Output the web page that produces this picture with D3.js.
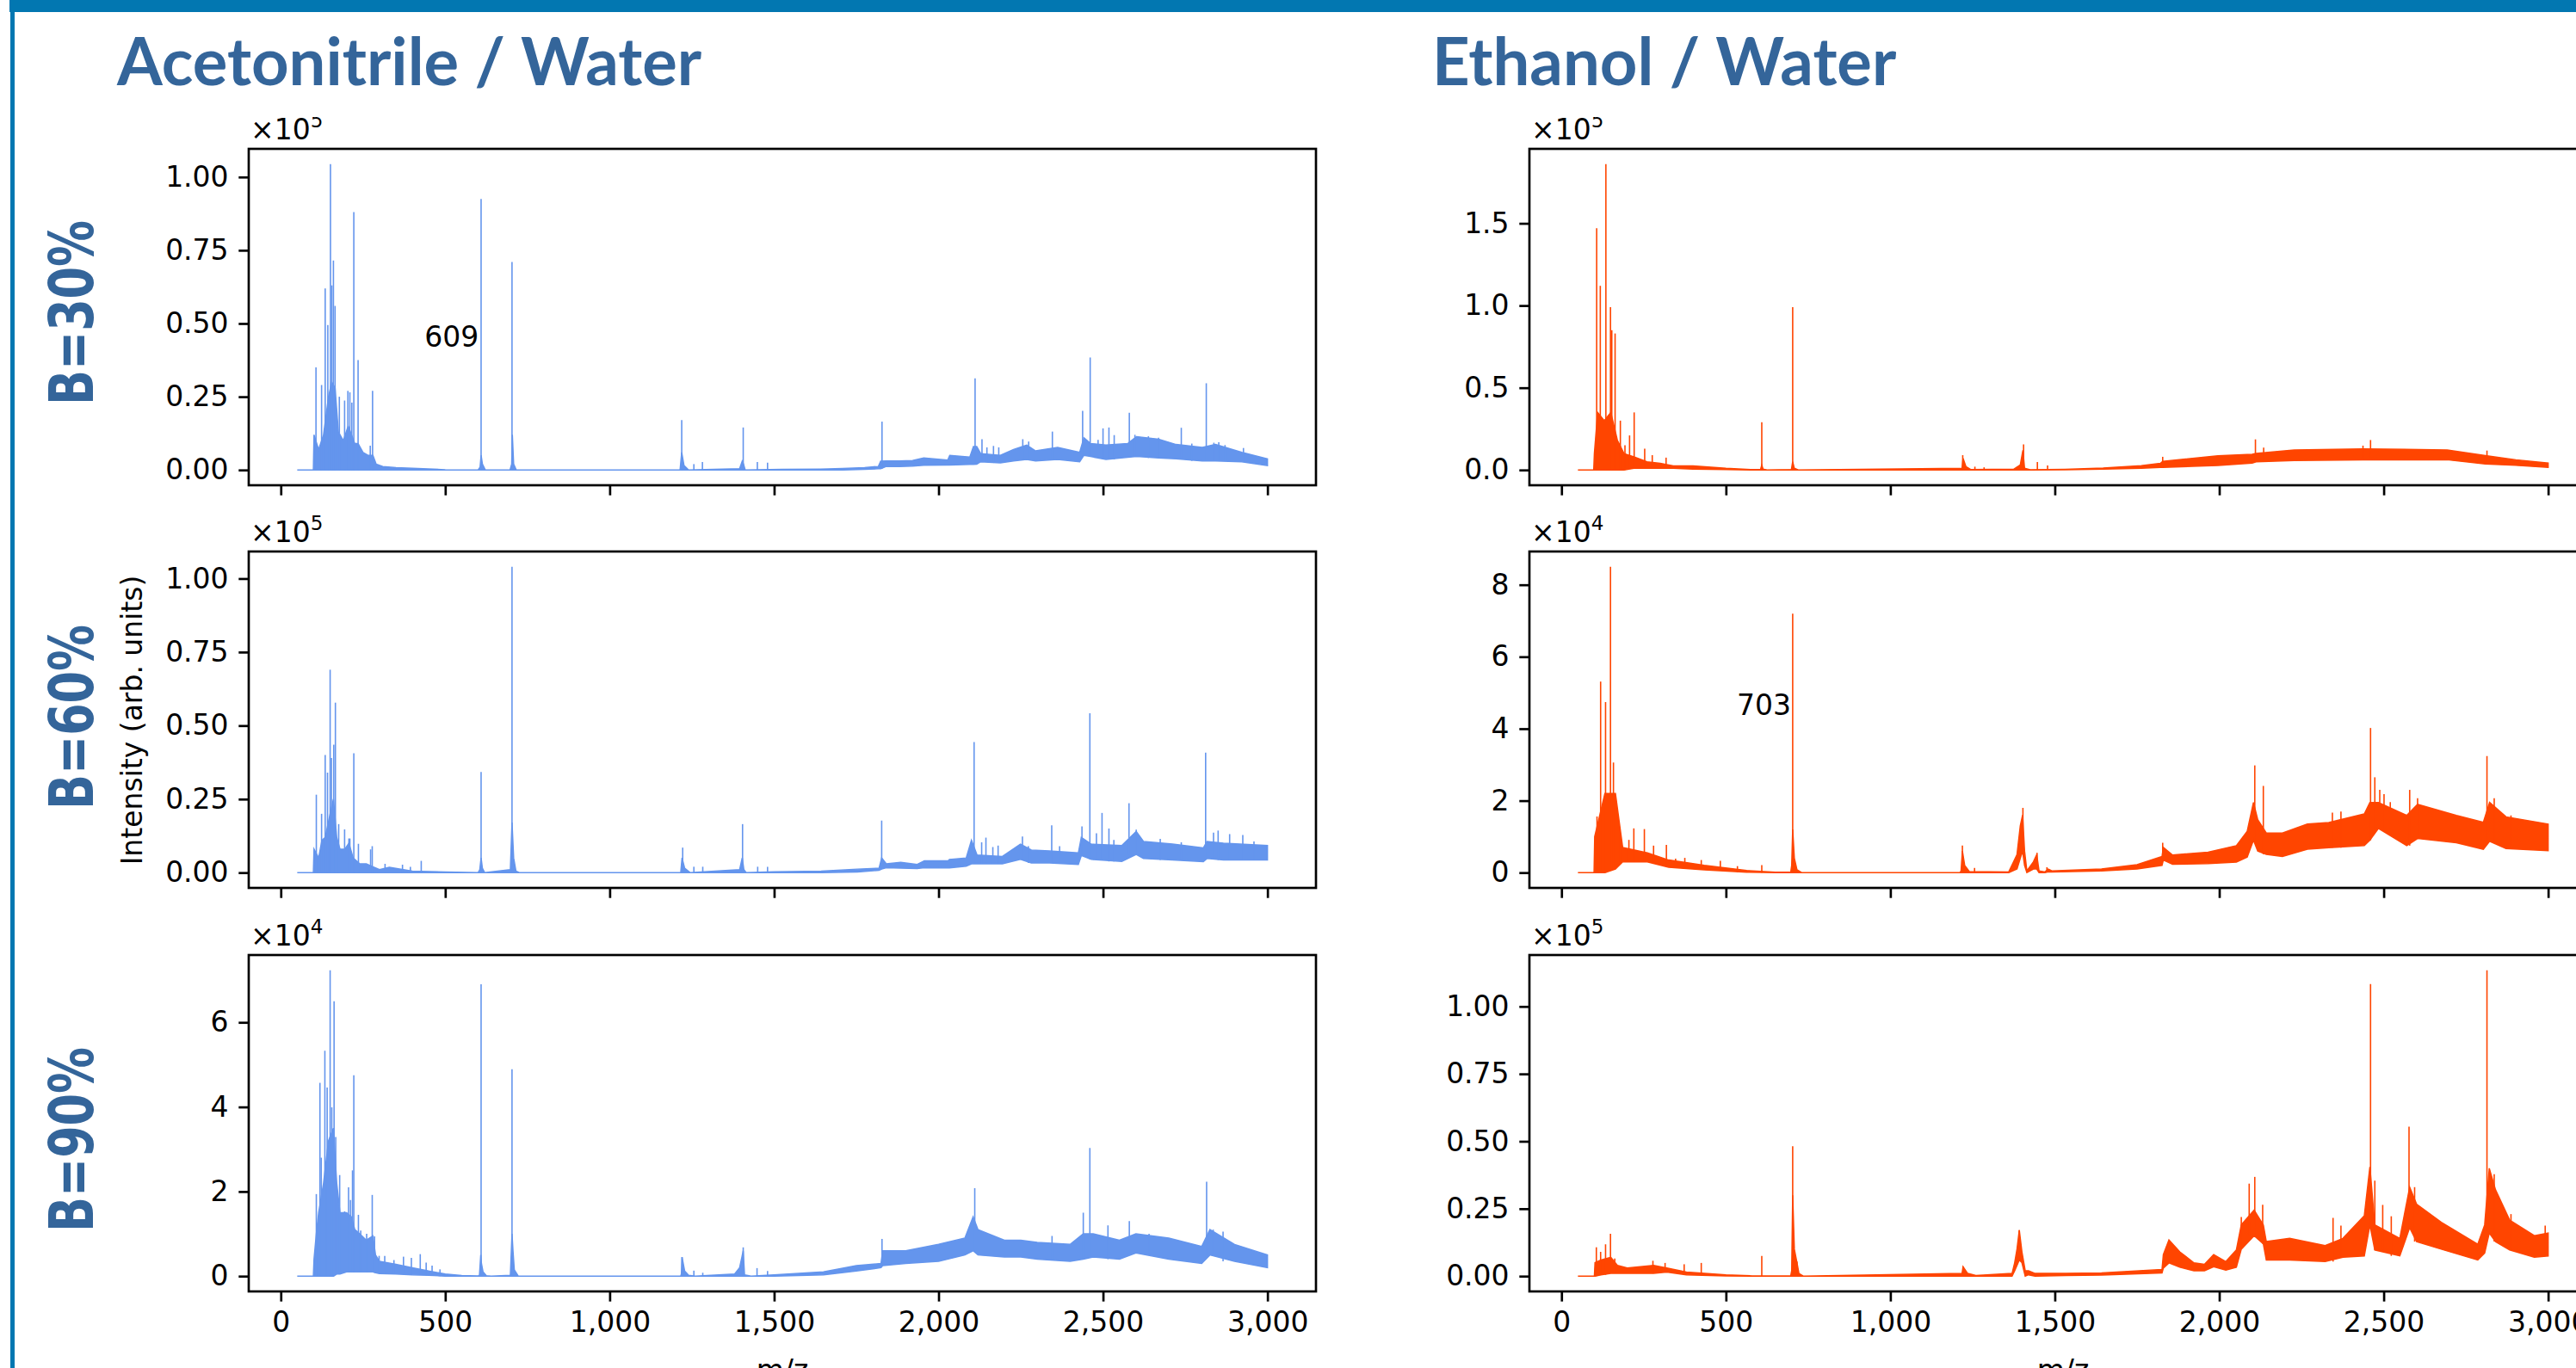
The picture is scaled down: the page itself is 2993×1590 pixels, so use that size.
<!DOCTYPE html>
<html>
<head>
<meta charset="utf-8">
<script src="https://cdn.jsdelivr.net/npm/d3@7"></script>
<style>
  html, body { margin: 0; padding: 0; background: #fff; overflow: hidden; }
  svg { display: block; }
  text { font-family: "DejaVu Sans", sans-serif; fill: #000; }
</style>
</head>
<body>
<div id="chart"></div>
<script>
var solvents = ["Acetonitrile / Water", "Ethanol / Water"];
var gradients = ["B=30%", "B=60%", "B=90%"];
var xTicks = [0, 500, 1000, 1500, 2000, 2500, 3000];

// every band row is [m/z, lower edge, upper edge], every peak row is [m/z, top]
// values are in the units shown on each y axis
var a30Band = [[50,0,0],[99,0,0],[101,0,.12],[115,0,.07],[130,0,.12],[145,0,.25],[155,0,.3],[165,0,.28],[175,0,.13],[190,0,.1],[205,0,.15],[215,0,.12],[225,0,.09],[235,0,.09],[250,0,.06],[265,0,.05],[280,0,.05],[290,0,.02],[310,0,.012],[350,0,.008],[400,0,.006],[500,0,.001],[600,0,0],[606,0,.01],[609,0,.05],[613,0,.02],[622,0,0],[697,0,0],[702,0,.02],[704,0,.12],[708,0,.02],[716,0,0],[1214,0,0],[1219,0,.06],[1226,0,.015],[1240,0,0],[1395,0,.004],[1403,0,.03],[1407,0,.02],[1412,0,0],[1525,0,.002],[1641,0,.003],[1708,0,.005],[1775,.002,.008],[1817,.004,.012],[1824,.004,.03],[1841,.012,.031],[1881,.012,.031],[1921,.013,.032],[1955,.016,.041],[2028,.017,.034],[2034,.017,.05],[2095,.019,.044],[2106,.019,.08],[2116,.02,.08],[2128,.028,.056],[2188,.024,.05],[2228,.031,.07],[2268,.036,.085],[2295,.031,.065],[2362,.036,.077],[2429,.028,.06],[2442,.05,.11],[2462,.046,.09],[2509,.036,.085],[2575,.043,.09],[2602,.046,.114],[2669,.041,.105],[2722,.038,.087],[2802,.031,.077],[2842,.031,.087],[2922,.028,.06],[3000,.015,.038]];
var a30Peaks = [[107,.35],[124,.29],[135,.62],[143,.495],[151,1.044],[155,.63],[160,.715],[165,.56],[178,.25],[194,.237],[204,.27],[210,.265],[216,.23],[222,.88],[235,.375],[272,.083],[279,.27],[609,.925],[703,.71],[1219,.17],[1256,.02],[1282,.027],[1406,.145],[1449,.027],[1480,.025],[1828,.165],[2111,.313],[2132,.105],[2147,.077],[2167,.082],[2183,.077],[2256,.105],[2274,.097],[2346,.131],[2438,.202],[2461,.384],[2485,.103],[2500,.142],[2518,.145],[2534,.119],[2580,.195],[2597,.12],[2638,.115],[2669,.11],[2738,.144],[2770,.09],[2814,.296],[2837,.093],[2852,.095],[2871,.085],[2927,.075]];

var a60Band = [[50,0,0],[99,0,0],[101,0,.08],[115,0,.05],[125,0,.11],[135,0,.12],[150,0,.2],[160,0,.25],[170,0,.12],[180,0,.08],[195,0,.08],[207,0,.1],[220,0,.05],[240,0,.03],[260,0,.03],[280,0,.02],[300,0,.01],[330,0,.018],[400,0,.005],[500,0,.002],[600,0,0],[605,0,.01],[609,0,.05],[613,0,.015],[620,0,0],[698,0,.01],[703,0,.17],[708,0,.05],[715,0,.005],[725,0,0],[1216,0,0],[1220,0,.05],[1228,0,.015],[1245,0,0],[1395,0,.01],[1403,0,.05],[1408,0,.01],[1415,0,0],[1500,0,.003],[1643,0,.005],[1753,.002,.012],[1819,.008,.015],[1827,.012,.05],[1841,.017,.03],[1885,.015,.035],[1935,.014,.028],[1957,.017,.04],[2029,.016,.04],[2033,.016,.045],[2084,.022,.05],[2100,.03,.11],[2117,.03,.06],[2194,.03,.055],[2249,.045,.097],[2282,.033,.077],[2337,.033,.074],[2425,.028,.067],[2434,.058,.12],[2464,.045,.097],[2557,.038,.092],[2601,.062,.14],[2623,.048,.106],[2711,.043,.097],[2805,.037,.084],[2816,.048,.106],[2866,.043,.1],[3000,.043,.092]];
var a60Peaks = [[108,.265],[124,.2],[135,.4],[142,.34],[150,.69],[154,.39],[161,.435],[166,.578],[176,.165],[194,.147],[207,.116],[210,.116],[222,.406],[236,.098],[273,.079],[278,.09],[317,.03],[370,.027],[394,.02],[427,.04],[609,.342],[703,1.04],[1222,.085],[1256,.02],[1283,.02],[1404,.165],[1450,.02],[1480,.02],[1827,.177],[2108,.444],[2131,.103],[2144,.119],[2165,.087],[2181,.092],[2255,.123],[2273,.09],[2344,.161],[2368,.09],[2436,.157],[2460,.542],[2480,.134],[2497,.203],[2518,.15],[2533,.111],[2579,.236],[2601,.146],[2674,.115],[2738,.103],[2812,.408],[2836,.136],[2850,.143],[2885,.131],[2925,.128],[2959,.106]];

var a90Band = [[50,0,0],[99,0,0],[101,0,.4],[108,0,1],[115,0,1.5],[130,0,2.2],[145,0,3.2],[160,0,3.5],[170,.05,2.2],[180,.05,1.5],[200,.1,1.5],[215,.1,1.4],[225,.1,1.1],[240,.1,1],[260,.1,.85],[280,.1,.95],[288,.08,.5],[300,.06,.35],[350,.05,.28],[400,.03,.2],[450,.02,.12],[500,0,.05],[550,0,.015],[600,0,.005],[604,0,.02],[608,0,.5],[610,0,.3],[615,0,.1],[625,0,.01],[640,0,0],[698,0,.02],[703,0,1],[706,0,.6],[710,0,.15],[722,0,0],[1216,0,0],[1218,0,.05],[1220,0,.45],[1228,0,.12],[1240,0,.02],[1260,0,0],[1380,0,.05],[1395,0,.2],[1402,0,.45],[1406,0,.6],[1410,0,.03],[1430,0,0],[1500,0,.03],[1650,.03,.1],[1750,.12,.25],[1825,.2,.3],[1830,.25,.6],[1900,.3,.6],[2000,.35,.75],[2080,.5,.9],[2105,.6,1.4],[2120,.5,1.1],[2200,.45,.85],[2250,.45,.85],[2300,.4,.8],[2400,.35,.75],[2440,.4,1],[2470,.45,1],[2550,.4,.85],[2600,.55,1],[2700,.4,.9],[2800,.3,.7],[2825,.5,1.1],[2900,.35,.75],[3000,.2,.5]];
var a90Peaks = [[108,1.94],[119,4.57],[123,2.8],[134,5.33],[141,4.46],[150,7.23],[155,3.99],[162,6.5],[167,3.29],[179,2.39],[194,1.53],[206,2.1],[212,1.8],[218,2.5],[222,4.75],[236,1.45],[243,1.08],[261,1],[278,1.92],[285,.94],[299,.48],[316,.48],[344,.38],[373,.46],[397,.43],[424,.52],[442,.32],[460,.25],[484,.16],[609,6.9],[703,4.89],[1220,.45],[1256,.13],[1283,.08],[1406,.68],[1448,.19],[1480,.12],[1828,.88],[2110,2.08],[2345,.95],[2440,1.5],[2460,3.03],[2515,1.2],[2580,1.3],[2640,1],[2815,2.23],[2835,1.1],[2865,1.05]];

var e30Band = [[50,0,0],[98,0,0],[100,0,.1],[110,0,.35],[130,0,.3],[150,0,.35],[170,0,.18],[190,0,.1],[220,.01,.08],[260,.01,.05],[300,.01,.04],[340,.01,.025],[400,.005,.025],[500,.002,.01],[580,0,.002],[605,0,.002],[609,0,.03],[613,0,.005],[625,0,0],[699,0,.002],[703,0,.05],[708,0,.01],[720,0,0],[1218,0,.01],[1221,0,.07],[1230,0,.02],[1245,0,.002],[1375,0,.005],[1395,0,.03],[1403,0,.12],[1408,0,.01],[1425,0,.001],[1531,.001,.004],[1647,.005,.012],[1763,.01,.026],[1821,.016,.04],[1828,.016,.052],[1996,.028,.086],[2100,.042,.096],[2112,.05,.1],[2228,.058,.122],[2437,.062,.128],[2693,.062,.122],[2809,.036,.088],[2902,.028,.062],[3000,.016,.042]];
var e30Peaks = [[107,1.47],[118,1.12],[135,1.86],[149,.99],[153,.85],[163,.83],[179,.3],[193,.15],[207,.21],[221,.35],[253,.13],[276,.09],[318,.075],[609,.29],[703,.99],[1220,.09],[1257,.02],[1285,.016],[1405,.155],[1447,.048],[1478,.028],[1828,.08],[2110,.186],[2135,.136],[2437,.148],[2460,.182],[2814,.118]];

var e60Band = [[50,0,0],[99,0,0],[101,0,1],[132,0,2.2],[164,.1,2.2],[186,.3,.7],[261,.3,.55],[326,.15,.35],[434,.08,.2],[563,.01,.06],[650,0,.01],[697,0,.01],[700,0,.2],[703,0,1.2],[708,0,.4],[716,0,.08],[730,0,0],[1212,0,0],[1215,0,.05],[1219,0,.6],[1226,0,.2],[1240,0,.03],[1360,0,.02],[1385,.1,.5],[1395,.4,1.3],[1402,.6,1.6],[1408,.2,.6],[1415,0,.05],[1435,.1,.3],[1445,.1,.5],[1452,0,.05],[1470,0,.02],[1480,.02,.1],[1491,.02,.05],[1642,.05,.1],[1750,.1,.22],[1826,.2,.45],[1830,.35,.7],[1858,.23,.49],[1966,.25,.57],[2052,.29,.75],[2085,.43,1.15],[2104,.9,1.95],[2117,.6,1.47],[2143,.51,1.1],[2192,.45,1.1],[2268,.65,1.35],[2333,.69,1.39],[2441,.75,1.63],[2458,.9,1.95],[2484,1.23,1.95],[2570,.75,1.59],[2603,.95,1.9],[2721,.83,1.59],[2803,.65,1.4],[2822,.87,1.95],[2872,.67,1.55],[3000,.61,1.35]];
var e60Peaks = [[108,1.56],[119,5.31],[134,4.74],[149,8.5],[158,3.06],[179,1.08],[205,.91],[220,1.23],[252,1.21],[280,.75],[319,.77],[347,.39],[375,.41],[425,.35],[483,.33],[535,.18],[609,.21],[703,7.2],[1219,.75],[1256,.13],[1403,1.8],[1446,.55],[1476,.15],[1828,.83],[2108,2.98],[2134,2.41],[2344,1.67],[2370,1.7],[2460,4.02],[2473,2.65],[2488,2.3],[2501,2.18],[2520,1.96],[2579,2.3],[2603,2.07],[2814,3.24],[2836,2.07],[2887,1.59]];

var e90Band = [[50,0,0],[100,0,0],[102,0,.05],[120,.005,.06],[150,.01,.07],[170,.01,.04],[200,.01,.03],[280,.01,.04],[320,.015,.03],[380,.005,.015],[500,.001,.005],[580,0,.001],[697,0,.001],[700,0,.02],[703,0,.3],[708,0,.1],[716,0,.05],[722,0,.01],[735,0,0],[1218,0,.01],[1221,0,.035],[1235,0,.01],[1260,0,.002],[1370,0,.01],[1378,.02,.05],[1385,.04,.1],[1392,.06,.17],[1400,.05,.09],[1410,0,.02],[1420,.005,.02],[1440,0,.01],[1534,.002,.01],[1642,.004,.012],[1826,.012,.025],[1830,.03,.08],[1847,.049,.134],[1880,.033,.09],[1923,.02,.049],[1955,.02,.044],[1983,.035,.08],[2020,.022,.054],[2052,.033,.097],[2067,.1,.19],[2106,.15,.245],[2134,.12,.19],[2143,.06,.128],[2214,.06,.14],[2322,.054,.113],[2376,.07,.14],[2441,.075,.224],[2458,.19,.405],[2473,.097,.19],[2549,.075,.14],[2579,.18,.33],[2600,.128,.267],[2675,.1,.2],[2786,.06,.118],[2807,.086,.19],[2821,.16,.4],[2840,.128,.32],[2883,.097,.208],[2958,.07,.15],[3000,.075,.16]];
var e90Peaks = [[106,.107],[119,.09],[134,.118],[149,.157],[162,.065],[278,.057],[315,.049],[373,.044],[425,.049],[609,.075],[703,.482],[716,.054],[1221,.036],[1392,.171],[1983,.08],[2067,.219],[2091,.343],[2108,.368],[2132,.265],[2346,.216],[2370,.187],[2460,1.083],[2473,.354],[2497,.264],[2523,.222],[2577,.554],[2594,.33],[2814,1.134],[2836,.378],[2887,.23],[2991,.187]];

var panels = [
  { col: 0, row: 0, band: a30Band, peaks: a30Peaks, ticks: [0, .25, .5, .75, 1], fmt: ".2f", exp: "5", note: { text: "609", mz: 602, y: .42 } },
  { col: 0, row: 1, band: a60Band, peaks: a60Peaks, ticks: [0, .25, .5, .75, 1], fmt: ".2f", exp: "5" },
  { col: 0, row: 2, band: a90Band, peaks: a90Peaks, ticks: [0, 2, 4, 6], fmt: "d", exp: "4" },
  { col: 1, row: 0, band: e30Band, peaks: e30Peaks, ticks: [0, .5, 1, 1.5], fmt: ".1f", exp: "5" },
  { col: 1, row: 1, band: e60Band, peaks: e60Peaks, ticks: [0, 2, 4, 6, 8], fmt: "d", exp: "4", note: { text: "703", mz: 698, y: 4.38 } },
  { col: 1, row: 2, band: e90Band, peaks: e90Peaks, ticks: [0, .25, .5, .75, 1], fmt: ".2f", exp: "5" }
];
var colors = ["#6495ED", "#FF4500"];

var width = 1240, height = 391;
var colLeft = [289, 1777];
var rowTop = [173, 641, 1110];
var titleColor = "#34659A", frameColor = "#0277B1";

var svg = d3.select("#chart")
    .append("svg")
        .attr("width", 2993)
        .attr("height", 1590);

// slide frame
svg.append("rect").attr("x", 11).attr("y", 0).attr("width", 2982).attr("height", 14).attr("fill", frameColor);
svg.append("rect").attr("x", 12).attr("y", 0).attr("width", 5).attr("height", 1590).attr("fill", frameColor);

// the top row exponent is cut off by the title box in the reference
svg.append("clipPath").attr("id", "topRowClip")
    .append("rect").attr("x", 0).attr("y", 136).attr("width", 2993).attr("height", 1454);

// column titles
svg.selectAll(".title")
    .data(solvents)
    .enter().append("text")
        .attr("class", "title")
        .attr("x", function(d, i) { return [136, 1664][i]; })
        .attr("y", 99)
        .attr("font-size", "76px")
        .style("font-family", "Lato, sans-serif")
        .style("font-weight", 700)
        .style("fill", titleColor)
        .text(function(d) { return d; });

// row labels
svg.selectAll(".rowLabel")
    .data(gradients)
    .enter().append("text")
        .attr("class", "rowLabel")
        .attr("transform", function(d, i) { return "translate(108," + [471, 941, 1432][i] + ") rotate(-90)"; })
        .attr("font-size", "72px")
        .attr("textLength", 215)
        .attr("lengthAdjust", "spacingAndGlyphs")
        .style("font-weight", 700)
        .style("fill", titleColor)
        .text(function(d) { return d; });

var x = d3.scaleLinear().domain([-97.5, 3147.5]).range([0, width]);

function drawPanel(p) {
    var ymax = d3.max(p.peaks, function(d) { return d[1]; });
    var y = d3.scaleLinear().domain([-0.05 * ymax, 1.05 * ymax]).range([height, 0]);
    var color = colors[p.col];

    var g = svg.append("g")
        .attr("transform", "translate(" + colLeft[p.col] + "," + rowTop[p.row] + ")");

    var area = d3.area()
        .x(function(d) { return x(d[0]); })
        .y0(function(d) { return y(d[1]); })
        .y1(function(d) { return y(d[2]); });

    g.append("path")
        .datum(p.band)
        .attr("fill", color)
        .attr("stroke", color)
        .attr("stroke-width", 1.5)
        .attr("d", area);

    var nearest = d3.bisector(function(d) { return d[0]; });
    g.selectAll(".peak")
        .data(p.peaks)
        .enter().append("line")
            .attr("class", "peak")
            .attr("x1", function(d) { return x(d[0]); })
            .attr("x2", function(d) { return x(d[0]); })
            .attr("y1", function(d) { return y(p.band[nearest.center(p.band, d[0])][1]); })
            .attr("y2", function(d) { return y(d[1]); })
            .attr("stroke", color)
            .attr("stroke-width", 1.6);

    // Y Axis
    var yAxis = g.append("g")
        .call(d3.axisLeft(y).tickValues(p.ticks).tickFormat(d3.format(p.fmt)).tickSize(11.7).tickPadding(11.7));

    // X Axis
    var xAxisCall = d3.axisBottom(x).tickValues(xTicks).tickSize(11.7).tickPadding(11.7);
    if (p.row < 2) xAxisCall.tickFormat("");
    var xAxis = g.append("g")
        .attr("transform", "translate(0," + height + ")")
        .call(xAxisCall);

    [xAxis, yAxis].forEach(function(a) {
        a.select(".domain").remove();
        a.selectAll("line").attr("stroke", "#000").attr("stroke-width", 2.67);
        a.selectAll("text").attr("font-size", "33px").style("font-family", "DejaVu Sans");
    });

    // spines
    g.append("rect")
        .attr("width", width)
        .attr("height", height)
        .attr("fill", "none")
        .attr("stroke", "#000")
        .attr("stroke-width", 2.67);

    // offset text
    var offset = svg.append("text")
        .attr("x", colLeft[p.col] + 2)
        .attr("y", rowTop[p.row] - 11)
        .attr("font-size", "33px")
        .text("\u00d710");
    offset.append("tspan")
        .attr("font-size", "23px")
        .attr("dy", -14)
        .text(p.exp);
    if (p.row == 0) offset.attr("clip-path", "url(#topRowClip)");

    if (p.note) {
        g.append("text")
            .attr("x", x(p.note.mz))
            .attr("y", y(p.note.y))
            .attr("text-anchor", "end")
            .attr("font-size", "33px")
            .text(p.note.text);
    }

    if (p.row == 2) {
        g.append("text")
            .attr("x", width / 2)
            .attr("y", height + 103)
            .attr("text-anchor", "middle")
            .attr("font-size", "33px")
            .text("m/z");
    }
}

panels.forEach(drawPanel);

// Y Label
svg.append("text")
    .attr("transform", "translate(165,837) rotate(-90)")
    .attr("text-anchor", "middle")
    .attr("font-size", "33px")
    .text("Intensity (arb. units)");
</script>
</body>
</html>
